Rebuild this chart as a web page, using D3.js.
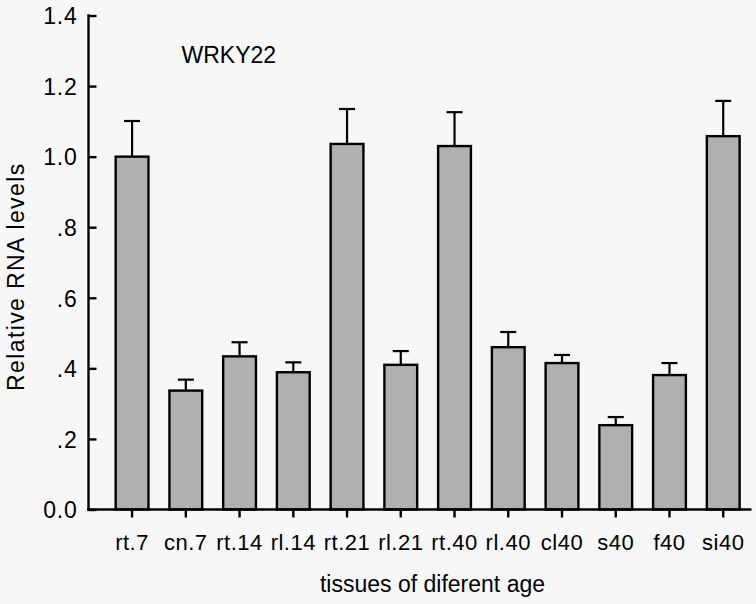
<!DOCTYPE html>
<meta charset="utf-8">
<style>
body { margin: 0; background: #f7f7f7; }
svg { display: block; background: #f7f7f7; }
.axis path, .axis line { fill: none; stroke: #000; stroke-width: 2.4px; }
.lbl { font-family: "Liberation Sans", Arial, sans-serif; fill: #000; }
</style>
<svg width="756" height="604"></svg>
<script src="https://d3js.org/d3.v7.min.js"></script>
<script>

// tissues (x categories)
var tissues = ["rt.7", "cn.7", "rt.14", "rl.14", "rt.21", "rl.21", "rt.40", "rl.40", "cl40", "s40", "f40", "si40"];
// mean relative RNA level
var levels = [1.00, 0.337, 0.434, 0.389, 1.036, 0.410, 1.030, 0.460, 0.415, 0.239, 0.381, 1.058];
// top of error bar (mean + error)
var errTop = [1.101, 0.368, 0.474, 0.417, 1.135, 0.449, 1.126, 0.503, 0.438, 0.262, 0.415, 1.158];
var yTicks = [0, 0.2, 0.4, 0.6, 0.8, 1.0, 1.2, 1.4];

var svg = d3.select("svg");

var x = d3.scaleBand()
    .domain(tissues)
    .range([105.2, 750.1])
    .paddingInner(0.39)
    .paddingOuter(0.195);

var y = d3.scaleLinear()
    .domain([0, 1.4])
    .range([509.5, 15.5]);

var axisX = 88.5;

function fmt(d) {
  var s = d3.format(".1f")(d);
  if (d > 0 && d < 1) s = s.slice(1);   // ".2", ".4" ...
  return s;
}

// y axis, ticks point inwards
svg.append("g")
    .attr("class", "axis")
    .attr("transform", "translate(" + axisX + ",0)")
    .call(d3.axisLeft(y).tickValues(yTicks).tickFormat(fmt).tickSizeInner(-8).tickSizeOuter(0).tickPadding(11))
    .call(function(g){ g.select(".domain").remove(); })
    .call(function(g){
      g.selectAll("text")
        .attr("dy", "0.36em")
        .attr("class", "lbl")
        .style("font-size", "23px")
        .style("letter-spacing", "0.8px");
    });

svg.append("line")
    .attr("x1", axisX).attr("x2", axisX)
    .attr("y1", y(1.4) - 1.2).attr("y2", y(0) + 1.2)
    .attr("stroke", "#000").attr("stroke-width", 2.4);

// bars
svg.append("g").selectAll("rect")
    .data(tissues)
  .enter().append("rect")
    .attr("x", function(d) { return x(d); })
    .attr("y", function(d, i) { return y(levels[i]); })
    .attr("width", x.bandwidth())
    .attr("height", function(d, i) { return y(0) - y(levels[i]); })
    .attr("fill", "#b0b0b0")
    .attr("stroke", "#000")
    .attr("stroke-width", 2.4);

// error bars
var eb = svg.append("g").selectAll("g")
    .data(tissues)
  .enter().append("g")
    .attr("stroke", "#000")
    .attr("stroke-width", 2.2);

eb.append("line")
    .attr("x1", function(d) { return x(d) + x.bandwidth() / 2; })
    .attr("x2", function(d) { return x(d) + x.bandwidth() / 2; })
    .attr("y1", function(d, i) { return y(levels[i]); })
    .attr("y2", function(d, i) { return y(errTop[i]); });

eb.append("line")
    .attr("x1", function(d) { return x(d) + x.bandwidth() / 2 - 8; })
    .attr("x2", function(d) { return x(d) + x.bandwidth() / 2 + 8; })
    .attr("y1", function(d, i) { return y(errTop[i]); })
    .attr("y2", function(d, i) { return y(errTop[i]); });

// x axis
svg.append("g")
    .attr("class", "axis")
    .attr("transform", "translate(0," + y(0) + ")")
    .call(d3.axisBottom(x).tickSizeInner(8).tickSizeOuter(0).tickPadding(17))
    .call(function(g){ g.select(".domain").remove(); })
    .call(function(g){
      g.selectAll("text")
        .attr("class", "lbl")
        .style("font-size", "22px")
        .style("letter-spacing", "0.5px");
    });

svg.append("line")
    .attr("x1", axisX - 1.2).attr("x2", 751.5)
    .attr("y1", y(0)).attr("y2", y(0))
    .attr("stroke", "#000").attr("stroke-width", 2.4);

// labels
svg.append("text")
    .attr("class", "lbl")
    .attr("x", 181.5).attr("y", 63.3)
    .attr("font-size", "23px")
    .text("WRKY22");

svg.append("text")
    .attr("class", "lbl")
    .attr("x", 432.5).attr("y", 592)
    .attr("text-anchor", "middle")
    .attr("font-size", "23px")
    .text("tissues of diferent age");

svg.append("text")
    .attr("class", "lbl")
    .attr("transform", "translate(23.5,276.7) rotate(-90)")
    .attr("text-anchor", "middle")
    .attr("font-size", "23px")
    .attr("letter-spacing", "1.4px")
    .text("Relative RNA levels");

</script>
